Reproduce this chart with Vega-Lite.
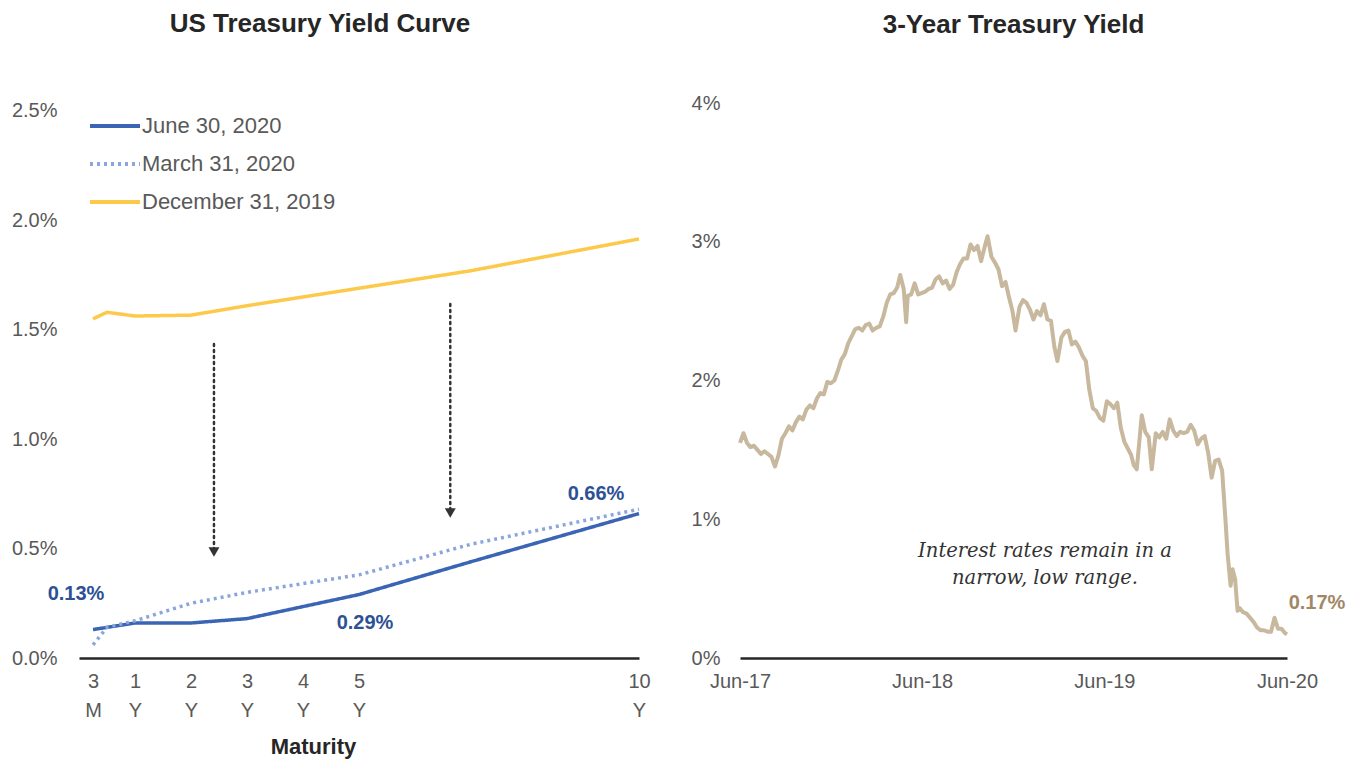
{
  "$schema": "https://vega.github.io/schema/vega-lite/v6.json",
  "background": "white",
  "padding": {"left": 11, "top": 10, "right": 5, "bottom": 5},
  "bounds": "flush",
  "spacing": 101,
  "config": {"view": {"stroke": null}, "font": "Liberation Sans"},
  "hconcat": [
    {
      "width": 560,
      "height": 555,
      "title": {"text": "US Treasury Yield Curve", "fontSize": 26, "fontWeight": "bold", "color": "#262626", "anchor": "middle", "frame": "group", "dx": -39, "offset": 64},
      "layer": [
        {
          "data": {"values": [
            {"series": "June 30, 2020", "m": 0.25, "v": 0.13},
            {"series": "June 30, 2020", "m": 0.5, "v": 0.14},
            {"series": "June 30, 2020", "m": 1, "v": 0.16},
            {"series": "June 30, 2020", "m": 2, "v": 0.16},
            {"series": "June 30, 2020", "m": 3, "v": 0.18},
            {"series": "June 30, 2020", "m": 5, "v": 0.29},
            {"series": "June 30, 2020", "m": 7, "v": 0.44},
            {"series": "June 30, 2020", "m": 10, "v": 0.66},
            {"series": "March 31, 2020", "m": 0.25, "v": 0.06},
            {"series": "March 31, 2020", "m": 0.5, "v": 0.14},
            {"series": "March 31, 2020", "m": 1, "v": 0.17},
            {"series": "March 31, 2020", "m": 2, "v": 0.25},
            {"series": "March 31, 2020", "m": 3, "v": 0.30},
            {"series": "March 31, 2020", "m": 5, "v": 0.38},
            {"series": "March 31, 2020", "m": 7, "v": 0.52},
            {"series": "March 31, 2020", "m": 10, "v": 0.68},
            {"series": "December 31, 2019", "m": 0.25, "v": 1.55},
            {"series": "December 31, 2019", "m": 0.5, "v": 1.58},
            {"series": "December 31, 2019", "m": 1, "v": 1.563},
            {"series": "December 31, 2019", "m": 2, "v": 1.567},
            {"series": "December 31, 2019", "m": 3, "v": 1.61},
            {"series": "December 31, 2019", "m": 5, "v": 1.69},
            {"series": "December 31, 2019", "m": 7, "v": 1.77},
            {"series": "December 31, 2019", "m": 10, "v": 1.915}
          ]},
          "mark": {"type": "line", "strokeWidth": 3.5},
          "encoding": {
            "x": {"field": "m", "type": "quantitative", "scale": {"domain": [0, 10], "nice": false},
              "axis": {"title": "Maturity", "values": [0.25, 1, 2, 3, 4, 5, 10],
                "labelExpr": "datum.value == 0.25 ? ['3','M'] : [format(datum.value,'d'), 'Y']",
                "ticks": false, "grid": false, "domain": true, "domainColor": "#262626", "domainWidth": 2.5,
                "labelFontSize": 20, "labelColor": "#595959", "labelLineHeight": 29, "labelPadding": 13,
                "labelFlush": false, "labelOverlap": false,
                "titleFontSize": 22, "titleFontWeight": "bold", "titleColor": "#262626",
                "titleX": 234, "titleY": 88, "titleAlign": "center", "titleBaseline": "middle"}},
            "y": {"field": "v", "type": "quantitative", "scale": {"domain": [0, 2.5365], "nice": false},
              "axis": {"title": null, "values": [0, 0.5, 1, 1.5, 2, 2.5],
                "labelExpr": "format(datum.value,'.1f') + '%'",
                "ticks": false, "grid": false, "domain": false,
                "labelFontSize": 20, "labelColor": "#595959", "labelPadding": 22}},
            "color": {"field": "series", "type": "nominal",
              "scale": {"domain": ["June 30, 2020", "March 31, 2020", "December 31, 2019"], "range": ["#3a64b4", "#8aa6dc", "#fdc94a"]},
              "legend": {"title": null, "orient": "none", "legendX": 9, "legendY": 13, "symbolType": "stroke",
                "symbolSize": 2500, "symbolStrokeWidth": 4, "clipHeight": 20, "rowPadding": 16,
                "labelFontSize": 22, "labelColor": "#595959", "labelOffset": 0, "labelLimit": 400, "padding": 0}},
            "strokeDash": {"field": "series", "type": "nominal",
              "scale": {"domain": ["June 30, 2020", "March 31, 2020", "December 31, 2019"], "range": [[1, 0], [3, 4], [1, 0]]},
              "legend": {"title": null, "orient": "none", "legendX": 9, "legendY": 13, "symbolType": "stroke",
                "symbolSize": 2500, "symbolStrokeWidth": 4, "clipHeight": 20, "rowPadding": 16,
                "labelFontSize": 22, "labelColor": "#595959", "labelOffset": 0, "labelLimit": 400, "padding": 0}}
          }
        },
        {
          "data": {"values": [
            {"m": 2.41, "top": 1.435, "tip": 0.484},
            {"m": 6.63, "top": 1.618, "tip": 0.663}
          ]},
          "mark": {"type": "rule", "strokeDash": [2, 4], "strokeWidth": 2.5, "strokeCap": "round", "color": "#333333"},
          "encoding": {
            "x": {"field": "m", "type": "quantitative"},
            "y": {"field": "top", "type": "quantitative"},
            "y2": {"field": "tip"}
          }
        },
        {
          "data": {"values": [
            {"m": 2.41, "top": 1.435, "tip": 0.484},
            {"m": 6.63, "top": 1.618, "tip": 0.663}
          ]},
          "mark": {"type": "point", "shape": "triangle-down", "filled": true, "size": 120, "color": "#333333", "opacity": 1},
          "encoding": {
            "x": {"field": "m", "type": "quantitative"},
            "y": {"field": "tip", "type": "quantitative"}
          }
        },
        {
          "data": {"values": [{"m": 0.25, "v": 0.13, "label": "0.13%"}]},
          "mark": {"type": "text", "dx": -17, "dy": -36, "fontSize": 20, "fontWeight": "bold", "color": "#2d5195", "align": "center", "baseline": "middle"},
          "encoding": {"x": {"field": "m", "type": "quantitative"}, "y": {"field": "v", "type": "quantitative"}, "text": {"field": "label"}}
        },
        {
          "data": {"values": [{"m": 5, "v": 0.29, "label": "0.29%"}]},
          "mark": {"type": "text", "dx": 6, "dy": 28, "fontSize": 20, "fontWeight": "bold", "color": "#2d5195", "align": "center", "baseline": "middle"},
          "encoding": {"x": {"field": "m", "type": "quantitative"}, "y": {"field": "v", "type": "quantitative"}, "text": {"field": "label"}}
        },
        {
          "data": {"values": [{"m": 10, "v": 0.66, "label": "0.66%"}]},
          "mark": {"type": "text", "dx": -43, "dy": -20, "fontSize": 20, "fontWeight": "bold", "color": "#2d5195", "align": "center", "baseline": "middle"},
          "encoding": {"x": {"field": "m", "type": "quantitative"}, "y": {"field": "v", "type": "quantitative"}, "text": {"field": "label"}}
        }
      ]
    },
    {
      "width": 547,
      "height": 555,
      "title": {"text": "3-Year Treasury Yield", "fontSize": 26, "fontWeight": "bold", "color": "#262626", "anchor": "middle", "frame": "group", "offset": 55},
      "layer": [
        {
          "data": {"values": [
            {"date": "2017-06-30", "v": 1.55}, {"date": "2017-07-07", "v": 1.62}, {"date": "2017-07-14", "v": 1.55},
            {"date": "2017-07-21", "v": 1.52}, {"date": "2017-07-28", "v": 1.53}, {"date": "2017-08-04", "v": 1.50},
            {"date": "2017-08-11", "v": 1.47}, {"date": "2017-08-18", "v": 1.49}, {"date": "2017-08-25", "v": 1.47},
            {"date": "2017-09-01", "v": 1.45}, {"date": "2017-09-08", "v": 1.38}, {"date": "2017-09-15", "v": 1.46},
            {"date": "2017-09-22", "v": 1.58}, {"date": "2017-09-29", "v": 1.62}, {"date": "2017-10-06", "v": 1.67},
            {"date": "2017-10-13", "v": 1.64}, {"date": "2017-10-20", "v": 1.70}, {"date": "2017-10-27", "v": 1.74},
            {"date": "2017-11-03", "v": 1.72}, {"date": "2017-11-10", "v": 1.79}, {"date": "2017-11-17", "v": 1.82},
            {"date": "2017-11-24", "v": 1.80}, {"date": "2017-12-01", "v": 1.87}, {"date": "2017-12-08", "v": 1.91},
            {"date": "2017-12-15", "v": 1.90}, {"date": "2017-12-22", "v": 1.99}, {"date": "2017-12-29", "v": 1.98},
            {"date": "2018-01-05", "v": 2.00}, {"date": "2018-01-12", "v": 2.07}, {"date": "2018-01-19", "v": 2.15},
            {"date": "2018-01-26", "v": 2.19}, {"date": "2018-02-02", "v": 2.27}, {"date": "2018-02-09", "v": 2.32},
            {"date": "2018-02-16", "v": 2.37}, {"date": "2018-02-23", "v": 2.38}, {"date": "2018-03-02", "v": 2.36},
            {"date": "2018-03-09", "v": 2.40}, {"date": "2018-03-16", "v": 2.41}, {"date": "2018-03-23", "v": 2.36},
            {"date": "2018-03-30", "v": 2.38}, {"date": "2018-04-06", "v": 2.39}, {"date": "2018-04-13", "v": 2.46},
            {"date": "2018-04-20", "v": 2.56}, {"date": "2018-04-27", "v": 2.62}, {"date": "2018-05-04", "v": 2.63},
            {"date": "2018-05-11", "v": 2.67}, {"date": "2018-05-17", "v": 2.76}, {"date": "2018-05-24", "v": 2.66},
            {"date": "2018-05-29", "v": 2.42}, {"date": "2018-06-01", "v": 2.61}, {"date": "2018-06-08", "v": 2.62},
            {"date": "2018-06-15", "v": 2.70}, {"date": "2018-06-22", "v": 2.62}, {"date": "2018-06-29", "v": 2.63},
            {"date": "2018-07-06", "v": 2.64}, {"date": "2018-07-13", "v": 2.66}, {"date": "2018-07-20", "v": 2.67},
            {"date": "2018-07-27", "v": 2.73}, {"date": "2018-08-03", "v": 2.75}, {"date": "2018-08-10", "v": 2.70},
            {"date": "2018-08-17", "v": 2.72}, {"date": "2018-08-24", "v": 2.66}, {"date": "2018-08-31", "v": 2.69},
            {"date": "2018-09-07", "v": 2.78}, {"date": "2018-09-14", "v": 2.84}, {"date": "2018-09-21", "v": 2.88},
            {"date": "2018-09-28", "v": 2.88}, {"date": "2018-10-05", "v": 2.98}, {"date": "2018-10-12", "v": 2.94},
            {"date": "2018-10-19", "v": 2.97}, {"date": "2018-10-26", "v": 2.86}, {"date": "2018-11-02", "v": 2.96},
            {"date": "2018-11-08", "v": 3.04}, {"date": "2018-11-16", "v": 2.89}, {"date": "2018-11-23", "v": 2.85},
            {"date": "2018-11-30", "v": 2.80}, {"date": "2018-12-07", "v": 2.68}, {"date": "2018-12-14", "v": 2.71},
            {"date": "2018-12-21", "v": 2.60}, {"date": "2018-12-28", "v": 2.50}, {"date": "2019-01-03", "v": 2.36},
            {"date": "2019-01-11", "v": 2.53}, {"date": "2019-01-18", "v": 2.58}, {"date": "2019-01-25", "v": 2.56},
            {"date": "2019-02-01", "v": 2.51}, {"date": "2019-02-08", "v": 2.44}, {"date": "2019-02-15", "v": 2.50},
            {"date": "2019-02-22", "v": 2.47}, {"date": "2019-03-01", "v": 2.55}, {"date": "2019-03-08", "v": 2.44},
            {"date": "2019-03-15", "v": 2.43}, {"date": "2019-03-22", "v": 2.24}, {"date": "2019-03-28", "v": 2.14},
            {"date": "2019-04-05", "v": 2.31}, {"date": "2019-04-12", "v": 2.35}, {"date": "2019-04-19", "v": 2.36},
            {"date": "2019-04-26", "v": 2.26}, {"date": "2019-05-03", "v": 2.28}, {"date": "2019-05-10", "v": 2.24},
            {"date": "2019-05-17", "v": 2.18}, {"date": "2019-05-24", "v": 2.14}, {"date": "2019-05-31", "v": 1.93},
            {"date": "2019-06-07", "v": 1.80}, {"date": "2019-06-14", "v": 1.78}, {"date": "2019-06-21", "v": 1.73},
            {"date": "2019-06-28", "v": 1.71}, {"date": "2019-07-05", "v": 1.85}, {"date": "2019-07-12", "v": 1.83},
            {"date": "2019-07-19", "v": 1.80}, {"date": "2019-07-26", "v": 1.84}, {"date": "2019-08-02", "v": 1.66},
            {"date": "2019-08-09", "v": 1.56}, {"date": "2019-08-16", "v": 1.51}, {"date": "2019-08-23", "v": 1.46},
            {"date": "2019-08-28", "v": 1.39}, {"date": "2019-09-03", "v": 1.36}, {"date": "2019-09-13", "v": 1.75},
            {"date": "2019-09-20", "v": 1.63}, {"date": "2019-09-27", "v": 1.59}, {"date": "2019-10-03", "v": 1.36},
            {"date": "2019-10-11", "v": 1.62}, {"date": "2019-10-18", "v": 1.59}, {"date": "2019-10-25", "v": 1.63},
            {"date": "2019-11-01", "v": 1.58}, {"date": "2019-11-08", "v": 1.72}, {"date": "2019-11-15", "v": 1.64},
            {"date": "2019-11-22", "v": 1.60}, {"date": "2019-11-29", "v": 1.63}, {"date": "2019-12-06", "v": 1.62},
            {"date": "2019-12-13", "v": 1.63}, {"date": "2019-12-20", "v": 1.68}, {"date": "2019-12-27", "v": 1.64},
            {"date": "2020-01-03", "v": 1.54}, {"date": "2020-01-10", "v": 1.58}, {"date": "2020-01-17", "v": 1.60},
            {"date": "2020-01-24", "v": 1.48}, {"date": "2020-01-31", "v": 1.30}, {"date": "2020-02-07", "v": 1.42},
            {"date": "2020-02-14", "v": 1.43}, {"date": "2020-02-21", "v": 1.35}, {"date": "2020-02-28", "v": 0.98},
            {"date": "2020-03-03", "v": 0.75}, {"date": "2020-03-09", "v": 0.52}, {"date": "2020-03-13", "v": 0.64},
            {"date": "2020-03-18", "v": 0.57}, {"date": "2020-03-23", "v": 0.34}, {"date": "2020-03-27", "v": 0.36},
            {"date": "2020-04-03", "v": 0.33}, {"date": "2020-04-10", "v": 0.32}, {"date": "2020-04-17", "v": 0.29},
            {"date": "2020-04-24", "v": 0.26}, {"date": "2020-05-01", "v": 0.22}, {"date": "2020-05-08", "v": 0.20},
            {"date": "2020-05-15", "v": 0.20}, {"date": "2020-05-22", "v": 0.19}, {"date": "2020-05-29", "v": 0.19},
            {"date": "2020-06-05", "v": 0.29}, {"date": "2020-06-12", "v": 0.21}, {"date": "2020-06-19", "v": 0.21},
            {"date": "2020-06-26", "v": 0.18}, {"date": "2020-06-30", "v": 0.17}
          ]},
          "mark": {"type": "line", "strokeWidth": 4, "color": "#c8b89e", "strokeJoin": "round"},
          "encoding": {
            "x": {"field": "date", "type": "temporal",
              "scale": {"type": "utc", "domain": [{"year": 2017, "month": 6, "date": 30, "utc": true}, {"year": 2020, "month": 6, "date": 30, "utc": true}]},
              "axis": {"title": null, "labelExpr": "utcFormat(datum.value, '%b-%y')",
                "values": [{"year": 2017, "month": 6, "date": 30, "utc": true}, {"year": 2018, "month": 6, "date": 30, "utc": true}, {"year": 2019, "month": 6, "date": 30, "utc": true}, {"year": 2020, "month": 6, "date": 30, "utc": true}],
                "ticks": false, "grid": false, "domain": true, "domainColor": "#262626", "domainWidth": 2.5,
                "labelFontSize": 20, "labelColor": "#595959", "labelPadding": 13, "labelFlush": false, "labelOverlap": false}},
            "y": {"field": "v", "type": "quantitative", "scale": {"domain": [0, 4], "nice": false},
              "axis": {"title": null, "values": [0, 1, 2, 3, 4], "labelExpr": "datum.value + '%'",
                "ticks": false, "grid": false, "domain": false,
                "labelFontSize": 20, "labelColor": "#595959", "labelPadding": 20}}
          }
        },
        {
          "data": {"values": [{"date": "2020-06-30", "v": 0.17, "label": "0.17%"}]},
          "mark": {"type": "text", "dx": 30, "dy": -31, "fontSize": 20, "fontWeight": "bold", "color": "#a08866", "align": "center", "baseline": "middle"},
          "encoding": {"x": {"field": "date", "type": "temporal"}, "y": {"field": "v", "type": "quantitative"}, "text": {"field": "label"}}
        },
        {
          "data": {"values": [{"date": "2019-03-03", "v": 0.77}]},
          "mark": {"type": "text", "text": ["Interest rates remain in a", "narrow, low range."], "font": "DejaVu Serif", "fontStyle": "italic", "fontSize": 19.5, "lineHeight": 27, "color": "#333333", "align": "center", "baseline": "middle"},
          "encoding": {"x": {"field": "date", "type": "temporal"}, "y": {"field": "v", "type": "quantitative"}}
        }
      ]
    }
  ]
}
